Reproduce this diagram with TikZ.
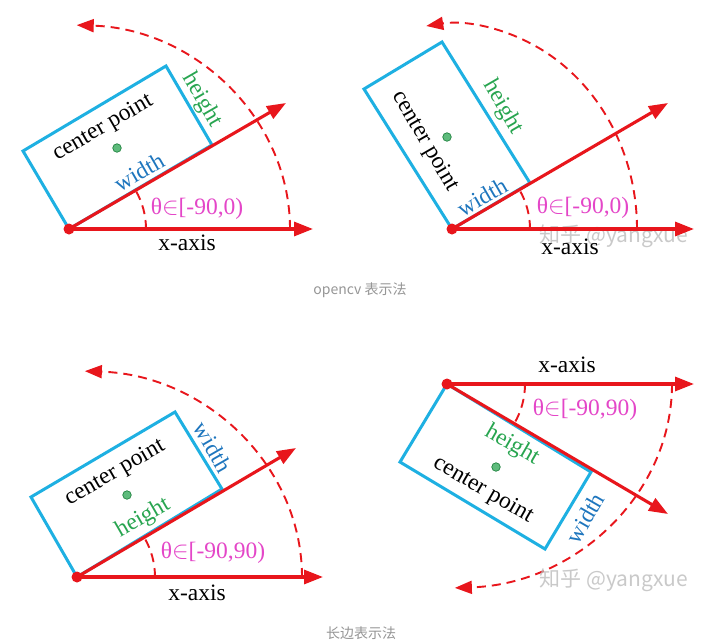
\documentclass[tikz,border=0pt]{standalone}
\usepackage{fontspec}
\setmainfont{Liberation Serif}
\newfontfamily\cjk{Noto Sans CJK SC}
\usetikzlibrary{arrows.meta}
\definecolor{cred}{RGB}{232,22,28}
\definecolor{ccyan}{RGB}{30,176,226}
\definecolor{cblue}{RGB}{30,118,190}
\definecolor{cgreen}{RGB}{40,165,80}
\definecolor{cmag}{RGB}{228,70,200}
\definecolor{cgrey}{RGB}{150,150,150}
\tikzset{
  axisline/.style={draw=cred, line width=3.1pt, -{Triangle[length=19pt,width=14pt]}},
  dasharc/.style={draw=cred, line width=1.9pt, dash pattern=on 9pt off 6pt, -{Triangle[length=17pt,width=13pt]}},
  anglearc/.style={draw=cred, line width=1.9pt, dash pattern=on 9pt off 6pt},
  rectbox/.style={draw=ccyan, line width=3pt, line join=miter},
  origindot/.style={circle, fill=cred, inner sep=0pt, minimum size=11pt},
  centerdot/.style={circle, fill=cgreen!75!white, draw=cgreen!80!black, line width=0.7pt, inner sep=0pt, minimum size=8.5pt},
  lbl/.style={inner sep=0pt, font=\fontsize{23.5}{23.5}\selectfont},
  thetalbl/.style={lbl, text=cmag},
  widthlbl/.style={lbl, text=cblue},
  heightlbl/.style={lbl, text=cgreen},
  wmark/.style={inner sep=0pt, text=black!28, opacity=0.75, font=\cjk\fontsize{21}{21}\selectfont},
  caption/.style={inner sep=0pt, text=cgrey, font=\cjk\fontsize{14}{14}\selectfont}
}
\begin{document}
\begin{tikzpicture}[x=1pt,y=-1pt]
\useasboundingbox (0,0) rectangle (709,643);
\fill[white] (0,0) rectangle (709,643);

% ---------- Panel 1 ----------
\coordinate (p1b) at (212,145);
\coordinate (p1c) at (166,66);
\coordinate (p1d) at (23,151);
\draw[rectbox] (69,229) coordinate (p1a) -- (p1b) -- (p1c) -- (p1d) -- cycle;
\draw[dasharc] (290,229) arc[start angle=0, end angle=-88, x radius=221, y radius=204];
\draw[anglearc] (146,229) arc[start angle=0, end angle=-30, radius=77];
\coordinate (x1) at (313,229);
\coordinate (r1) at (286,103);
\node[origindot] (o1) at (69,229) {};
\draw[axisline] (o1.center) -- (x1);
\draw[axisline] (o1.center) -- (r1);
\node[centerdot] (c1) at (117,148) {};
\node[lbl, rotate=30] (cp1) at (103,128) {center point};
\node[widthlbl, rotate=30] (w1) at (139,172) {width};
\node[heightlbl, rotate=-60] (h1) at (202,100) {height};
\node[thetalbl] (t1) at (197,209) {θ$\in$[-90,0)};
\node[lbl] (xa1) at (187,243) {x-axis};

% ---------- Panel 2 ----------
\coordinate (p2b) at (530,183);
\coordinate (p2c) at (442,42);
\coordinate (p2d) at (364,89);
\draw[rectbox] (452,229) coordinate (p2a) -- (p2b) -- (p2c) -- (p2d) -- cycle;
\draw[dasharc] (637,229) arc[start angle=0, end angle=-98, x radius=185, y radius=205];
\draw[anglearc] (530,229) arc[start angle=0, end angle=-30, radius=78];
\coordinate (x2) at (694,229);
\coordinate (r2) at (668,103);
\node[origindot] (o2) at (452,229) {};
\node[wmark] (wm1) at (614,236) {知乎 @yangxue};
\draw[axisline] (o2.center) -- (x2);
\draw[axisline] (o2.center) -- (r2);
\node[centerdot] (c2) at (447,137) {};
\node[lbl, rotate=-60] (cp2) at (425,141) {center point};
\node[heightlbl, rotate=-60] (h2) at (503,107) {height};
\node[widthlbl, rotate=30] (w2) at (482,197) {width};
\node[thetalbl] (t2) at (583,208) {θ$\in$[-90,0)};
\node[lbl] (xa2) at (570,247) {x-axis};

\node[caption] (cap1) at (360,290) {opencv 表示法};

% ---------- Panel 3 ----------
\coordinate (p3b) at (222,489);
\coordinate (p3c) at (175,412);
\coordinate (p3d) at (31,497);
\draw[rectbox] (77,577) coordinate (p3a) -- (p3b) -- (p3c) -- (p3d) -- cycle;
\draw[dasharc] (302,577) arc[start angle=0, end angle=-88, x radius=225, y radius=206];
\draw[anglearc] (155,577) arc[start angle=0, end angle=-30, radius=78];
\coordinate (x3) at (323,577);
\coordinate (r3) at (296,448);
\node[origindot] (o3) at (77,577) {};
\draw[axisline] (o3.center) -- (x3);
\draw[axisline] (o3.center) -- (r3);
\node[centerdot] (c3) at (127,495) {};
\node[lbl, rotate=30] (cp3) at (115,473) {center point};
\node[heightlbl, rotate=30] (h3) at (143,518) {height};
\node[widthlbl, rotate=-60] (w3) at (213,447) {width};
\node[thetalbl] (t3) at (213,553) {θ$\in$[-90,90)};
\node[lbl] (xa3) at (197,593) {x-axis};

% ---------- Panel 4 ----------
\coordinate (p4b) at (591,472);
\coordinate (p4c) at (545,549);
\coordinate (p4d) at (400,462);
\draw[rectbox] (447,384) coordinate (p4a) -- (p4b) -- (p4c) -- (p4d) -- cycle;
\draw[dasharc] (672,384) arc[start angle=0, end angle=88, x radius=225, y radius=204];
\draw[anglearc] (525,384) arc[start angle=0, end angle=30, radius=78];
\coordinate (x4) at (694,384);
\coordinate (r4) at (668,514);
\node[origindot] (o4) at (447,384) {};
\node[wmark] (wm2) at (614,580) {知乎 @yangxue};
\draw[axisline] (o4.center) -- (x4);
\draw[axisline] (o4.center) -- (r4);
\node[centerdot] (c4) at (496,467) {};
\node[heightlbl, rotate=-30] (h4) at (512,445) {height};
\node[lbl, rotate=-30] (cp4) at (483,490) {center point};
\node[widthlbl, rotate=60] (w4) at (585,518) {width};
\node[thetalbl] (t4) at (585,410) {θ$\in$[-90,90)};
\node[lbl] (xa4) at (567,365) {x-axis};

\node[caption] (cap2) at (361,633) {长边表示法};
\end{tikzpicture}
\end{document}
